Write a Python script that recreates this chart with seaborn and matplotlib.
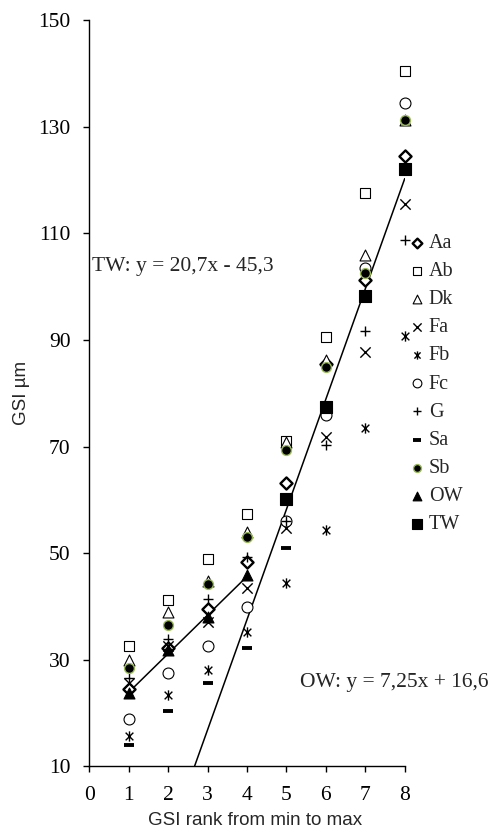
import numpy as np
import pandas as pd
import matplotlib
matplotlib.use("Agg")
import matplotlib.pyplot as plt
import seaborn as sns
from matplotlib.path import Path

# ---------------- data ----------------
ranks = [1, 2, 3, 4, 5, 6, 7, 8]
Aa = [24.4, 32.1, 39.4, 48.4, 63.2, 85.5, 101.3, 124.6]
Ab = [32.5, 41.2, 48.9, 57.3, 71.0, 90.5, 117.6, 140.5]
Dk = [30.0, 39.0, 44.8, 54.0, 70.8, 86.3, 106.0, 131.3]
Fa = [25.5, 32.5, 37.0, 43.4, 54.7, 71.8, 87.8, 115.6]
Fb = [15.6, 23.3, 28.0, 35.1, 44.4, 54.4, 73.4, 90.8]
Fc = [18.8, 27.4, 32.5, 39.8, 56.0, 76.0, 103.6, 134.5]
G  = [26.5, 33.8, 41.3, 49.3, 56.0, 70.3, 91.6, 108.8]
Sa = [13.9, 20.4, 25.5, 32.1, 51.0]
Sb = [28.5, 36.5, 44.1, 53.0, 69.3, 85.0, 102.5, 131.3]
OW = [23.8, 31.8, 37.9, 45.9]
TW = [60.1, 77.5, 98.3, 122.2]
ow_ranks = [1, 2, 3, 4]
tw_ranks = [5, 6, 7, 8]
sa_ranks = [1, 2, 3, 4, 5]

# trend line coefficients (from the chart's equations)
ow_slope, ow_intercept = 7.25, 16.6
tw_slope, tw_intercept = 20.7, -45.3
ow_label = "OW: y = 7,25x + 16,6"
tw_label = "TW: y = 20,7x - 45,3"

x_ticks = [0, 1, 2, 3, 4, 5, 6, 7, 8]
y_ticks = [10, 30, 50, 70, 90, 110, 130, 150]

# ---------------- style ----------------
sns.set_style("ticks")
plt.rcParams["font.family"] = ["Liberation Serif", "DejaVu Serif"]

fig = plt.figure(figsize=(4.98, 8.36), dpi=100)
ax = fig.add_axes([0.1793, 0.0837, 0.6334, 0.8918])

# asterisk marker (Excel-like star: vertical line + X)
star_path = Path(
    [(0, -1), (0, 1), (-0.75, -0.75), (0.75, 0.75), (-0.75, 0.75), (0.75, -0.75)],
    [Path.MOVETO, Path.LINETO, Path.MOVETO, Path.LINETO, Path.MOVETO, Path.LINETO],
)

series = [
    ("Aa", ranks, Aa, dict(marker="D", s=38, color="white", edgecolor="black", linewidth=1.7)),
    ("Ab", ranks, Ab, dict(marker="s", s=62, color="white", edgecolor="black", linewidth=0.8)),
    ("Dk", ranks, Dk, dict(marker="^", s=62, color="white", edgecolor="black", linewidth=0.8)),
    ("Fa", ranks, Fa, dict(marker="x", s=55, color="black", edgecolor=None, linewidth=1.0)),
    ("Fb", ranks, Fb, dict(marker=star_path, s=55, color="black", edgecolor=None, linewidth=1.0)),
    ("Fc", ranks, Fc, dict(marker="o", s=62, color="white", edgecolor="black", linewidth=0.8)),
    ("G", ranks, G, dict(marker="+", s=62, color="black", edgecolor=None, linewidth=1.0)),
    ("Sa", sa_ranks, Sa, dict(marker="_", s=62, color="black", edgecolor=None, linewidth=2.8)),
    ("Sb", ranks, Sb, dict(marker="o", s=50, color="black", edgecolor="#9bbb59", linewidth=1.0)),
    ("OW", ow_ranks, OW, dict(marker="^", s=62, color="black", edgecolor="black", linewidth=0.8)),
    ("TW", tw_ranks, TW, dict(marker="s", s=72, color="black", edgecolor="black", linewidth=0.8)),
]

for i, (name, xs, ys, kw) in enumerate(series):
    sns.scatterplot(x=xs, y=ys, ax=ax, label=name, zorder=3 + i * 0.01, clip_on=False, **kw)

# trend lines
ow_x = np.array([min(ow_ranks), max(ow_ranks)], dtype=float)
tw_x = np.array([(min(y_ticks) - tw_intercept) / tw_slope, max(tw_ranks)], dtype=float)
sns.lineplot(x=ow_x, y=ow_slope * ow_x + ow_intercept, ax=ax, color="black", linewidth=1.1,
             legend=False, zorder=2)
sns.lineplot(x=tw_x, y=tw_slope * tw_x + tw_intercept, ax=ax, color="black", linewidth=1.1,
             legend=False, zorder=2)

ax.text(0.07, 103.8, tw_label, fontsize=15.5, va="center", ha="left")
ax.text(5.35, 25.6, ow_label, fontsize=15.5, va="center", ha="left")

ax.set_xlim(0, 8)
ax.set_ylim(10, 150)
ax.set_xticks(x_ticks)
ax.set_yticks(y_ticks)
ax.tick_params(axis="both", direction="out", length=4.5, width=1.0, labelsize=15.5,
               color="black", labelcolor="black")
ax.tick_params(axis="x", pad=10)
ax.tick_params(axis="y", pad=9)
for sp in ["top", "right"]:
    ax.spines[sp].set_visible(False)
for sp in ["left", "bottom"]:
    ax.spines[sp].set_color("black")
    ax.spines[sp].set_linewidth(1.0)

ax.set_xlabel("GSI rank from min to max", family=["Liberation Sans", "DejaVu Sans"],
              fontsize=13.5, labelpad=4)
ax.xaxis.set_label_coords(0.527, -0.062)
ax.set_ylabel("GSI µm", family=["Liberation Sans", "DejaVu Sans"], fontsize=13.5, labelpad=6)

leg = ax.legend(loc="upper left", bbox_to_anchor=(1.0, 0.714), frameon=False,
                prop={"family": "Liberation Serif", "size": 14.5}, markerscale=0.8,
                handletextpad=0.0, handlelength=1.2, labelspacing=0.45, borderaxespad=0.0,
                borderpad=0.0)

fig.savefig("out.png", dpi=100)
